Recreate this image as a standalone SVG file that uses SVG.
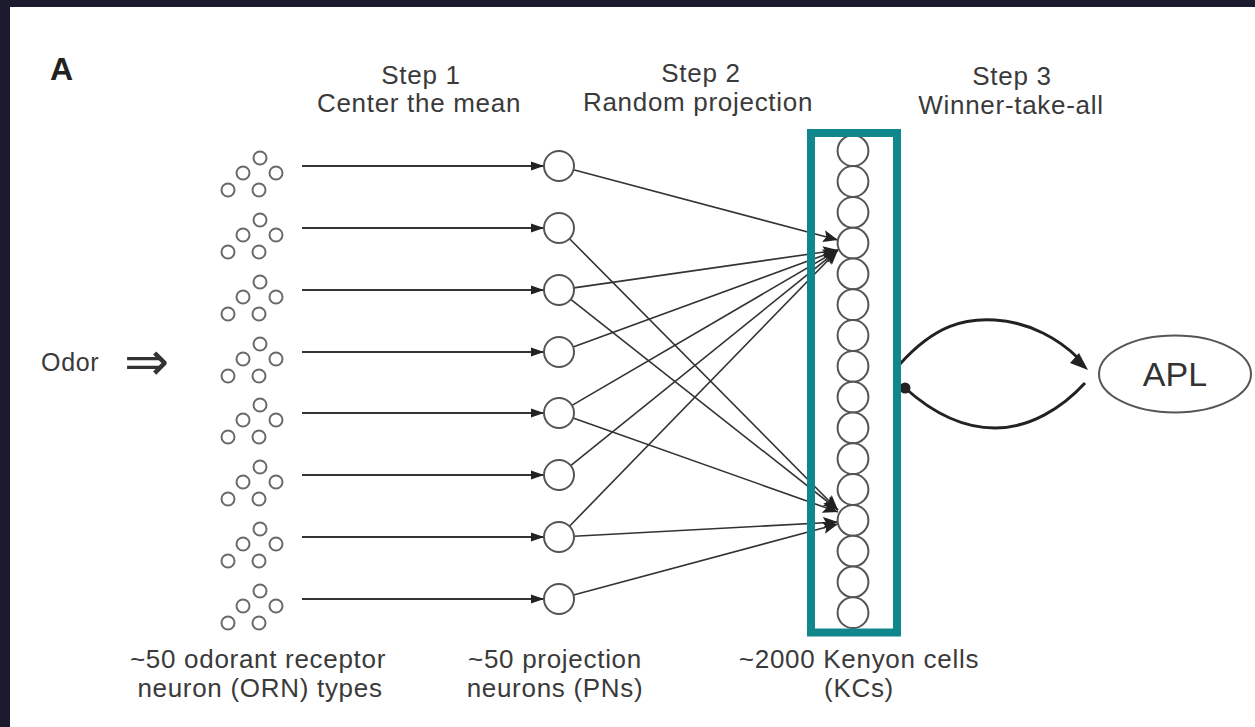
<svg xmlns="http://www.w3.org/2000/svg" width="1255" height="727" viewBox="0 0 1255 727">
<style>
.t{font-family:"Liberation Sans",Arial,sans-serif;font-size:26px;letter-spacing:0.7px;fill:#3a3a3a;text-anchor:middle}
.orn circle{fill:none;stroke:#6a6a6a;stroke-width:2}
.pn{fill:#fff;stroke:#555;stroke-width:2}
.kc{fill:#fff;stroke:#555;stroke-width:2}
.c line{stroke:#333;stroke-width:1.6}
.h line{stroke:#333;stroke-width:2}
</style>
<defs>
<marker id="ah" markerUnits="userSpaceOnUse" markerWidth="14" markerHeight="10" refX="13" refY="5" orient="auto"><path d="M0,0.5 L13,5 L0,9.5 z" fill="#222"/></marker>
<marker id="ah2" markerUnits="userSpaceOnUse" markerWidth="16" markerHeight="12" refX="15" refY="6" orient="auto"><path d="M0,0 L15,6 L0,12 L3,6 z" fill="#222"/></marker>
<g id="orn-shape" class="orn">
<circle cx="260" cy="-8" r="6.5"/><circle cx="243" cy="7" r="6.5"/><circle cx="276" cy="7" r="6.5"/><circle cx="228" cy="24" r="6.5"/><circle cx="259" cy="24" r="6.5"/>
</g>
</defs>
<rect x="0" y="0" width="1255" height="727" fill="#1c1a2f"/>
<rect x="10" y="7" width="1245" height="720" fill="#fff"/>
<text x="50" y="80" style="font-family:'Liberation Sans',Arial,sans-serif;font-size:32px;font-weight:bold;fill:#222">A</text>
<g id="labels">
<text class="t" x="421" y="84">Step 1</text>
<text class="t" x="419" y="112">Center the mean</text>
<text class="t" x="701" y="82">Step 2</text>
<text class="t" x="698" y="111">Random projection</text>
<text class="t" x="1012" y="85">Step 3</text>
<text class="t" x="1011" y="114">Winner-take-all</text>
<text class="t" x="258" y="668">~50 odorant receptor</text>
<text class="t" x="260" y="697">neuron (ORN) types</text>
<text class="t" x="555" y="668">~50 projection</text>
<text class="t" x="555" y="697">neurons (PNs)</text>
<text class="t" x="859" y="668">~2000 Kenyon cells</text>
<text class="t" x="859" y="697">(KCs)</text>
<text x="41" y="371" style="font-family:'Liberation Sans',Arial,sans-serif;font-size:25px;letter-spacing:0.7px;fill:#3a3a3a">Odor</text>
<text x="124" y="380" style="font-family:'DejaVu Sans',sans-serif;font-size:54px;fill:#333">⇒</text>
</g>
<g id="orn-clusters">
<use href="#orn-shape" y="166"/><use href="#orn-shape" y="228"/><use href="#orn-shape" y="290"/><use href="#orn-shape" y="352"/>
<use href="#orn-shape" y="413"/><use href="#orn-shape" y="475"/><use href="#orn-shape" y="537"/><use href="#orn-shape" y="599"/>
</g>
<g id="connectors">
<g class="h">
<line x1="302" y1="166" x2="544" y2="166" marker-end="url(#ah)"/>
<line x1="302" y1="228" x2="544" y2="228" marker-end="url(#ah)"/>
<line x1="302" y1="290" x2="544" y2="290" marker-end="url(#ah)"/>
<line x1="302" y1="352" x2="544" y2="352" marker-end="url(#ah)"/>
<line x1="302" y1="413" x2="544" y2="413" marker-end="url(#ah)"/>
<line x1="302" y1="475" x2="544" y2="475" marker-end="url(#ah)"/>
<line x1="302" y1="537" x2="544" y2="537" marker-end="url(#ah)"/>
<line x1="302" y1="599" x2="544" y2="599" marker-end="url(#ah)"/>
</g>
<g class="c">
<line x1="573.5" y1="169.8" x2="838" y2="240" marker-end="url(#ah2)"/>
<line x1="573.8" y1="287.9" x2="838" y2="250" marker-end="url(#ah2)"/>
<line x1="573.1" y1="346.9" x2="838" y2="250" marker-end="url(#ah2)"/>
<line x1="572" y1="405.4" x2="838" y2="250" marker-end="url(#ah2)"/>
<line x1="570.7" y1="465.6" x2="838" y2="250" marker-end="url(#ah2)"/>
<line x1="569.5" y1="526.2" x2="838" y2="250" marker-end="url(#ah2)"/>
<line x1="569.5" y1="238.7" x2="838" y2="510" marker-end="url(#ah2)"/>
<line x1="570.8" y1="299.3" x2="838" y2="510" marker-end="url(#ah2)"/>
<line x1="573.1" y1="418" x2="838" y2="512" marker-end="url(#ah2)"/>
<line x1="574" y1="536.2" x2="838" y2="522" marker-end="url(#ah2)"/>
<line x1="573.5" y1="595.1" x2="838" y2="524" marker-end="url(#ah2)"/>
</g>
<g id="apl-loop" fill="none" stroke="#222" stroke-width="3">
<path d="M900 364 C 935 325, 965 318, 995 320 C 1030 322, 1060 340, 1078 358"/>
<path d="M1088 370 L1070 363 L1079 353 z" fill="#222" stroke="none"/>
<path d="M905 388 C 935 415, 965 428, 995 428 C 1030 428, 1062 408, 1085 383"/>
<circle cx="905" cy="388" r="5.5" fill="#222" stroke="none"/>
</g>
</g>
<g id="pn-cells">
<circle class="pn" cx="559" cy="166" r="15"/><circle class="pn" cx="559" cy="228" r="15"/><circle class="pn" cx="559" cy="290" r="15"/><circle class="pn" cx="559" cy="352" r="15"/>
<circle class="pn" cx="559" cy="413" r="15"/><circle class="pn" cx="559" cy="475" r="15"/><circle class="pn" cx="559" cy="537" r="15"/><circle class="pn" cx="559" cy="599" r="15"/>
</g>
<g id="kc-cells">
<circle class="kc" cx="853" cy="150.7" r="15.4"/><circle class="kc" cx="853" cy="181.5" r="15.4"/><circle class="kc" cx="853" cy="212.3" r="15.4"/><circle class="kc" cx="853" cy="243.1" r="15.4"/>
<circle class="kc" cx="853" cy="273.9" r="15.4"/><circle class="kc" cx="853" cy="304.7" r="15.4"/><circle class="kc" cx="853" cy="335.5" r="15.4"/><circle class="kc" cx="853" cy="366.3" r="15.4"/>
<circle class="kc" cx="853" cy="397.1" r="15.4"/><circle class="kc" cx="853" cy="427.9" r="15.4"/><circle class="kc" cx="853" cy="458.7" r="15.4"/><circle class="kc" cx="853" cy="489.5" r="15.4"/>
<circle class="kc" cx="853" cy="520.3" r="15.4"/><circle class="kc" cx="853" cy="551.1" r="15.4"/><circle class="kc" cx="853" cy="581.9" r="15.4"/><circle class="kc" cx="853" cy="612.7" r="15.4"/>
</g>
<g id="kc-highlight">
<rect x="811" y="133" width="86" height="499.5" fill="none" stroke="#10878d" stroke-width="8"/>
</g>
<g id="apl">
<ellipse cx="1175" cy="374" rx="76" ry="38.5" fill="#fff" stroke="#555" stroke-width="2"/>
<text x="1175" y="386" style="font-family:'Liberation Sans',Arial,sans-serif;font-size:34px;fill:#333;text-anchor:middle">APL</text>
</g>
</svg>
